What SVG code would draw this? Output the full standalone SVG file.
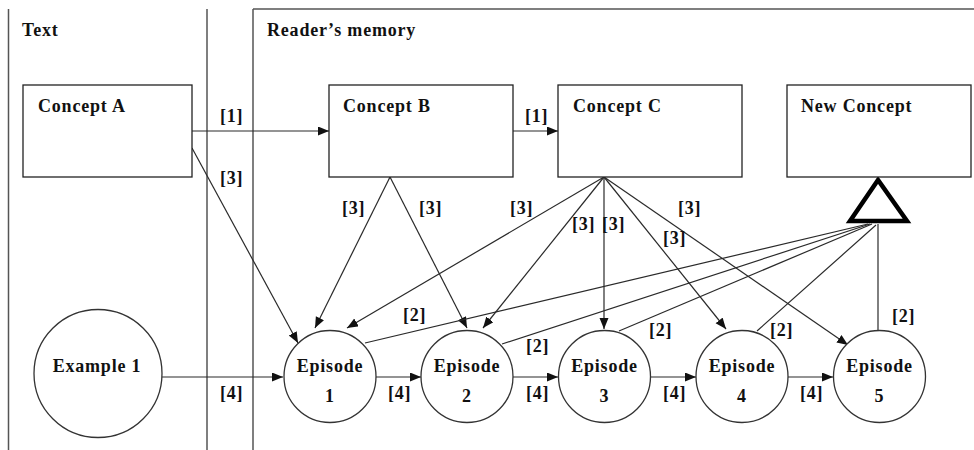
<svg xmlns="http://www.w3.org/2000/svg" width="974" height="450" viewBox="0 0 974 450">
<defs>
<style>
text{font-family:"Liberation Serif","Times New Roman",serif;font-weight:bold;font-size:18px;letter-spacing:0.8px;fill:#111}
.mid{text-anchor:middle}
.box{fill:#fff;stroke:#222;stroke-width:1.3}
.circ{fill:#fff;stroke:#333;stroke-width:1.3}
.panel{stroke:#555;stroke-width:1.5;fill:none}
.c{stroke:#2a2a2a;stroke-width:1.2;fill:none}
.a{marker-end:url(#arr)}
</style>
<marker id="arr" markerUnits="userSpaceOnUse" markerWidth="12" markerHeight="10" refX="11" refY="4.5" orient="auto">
<path d="M0,0 L11,4.5 L0,9 z" fill="#111"/>
</marker>
</defs>
<rect width="974" height="450" fill="#fff"/>
<g id="panels">
<line class="panel" x1="8.5" y1="9" x2="8.5" y2="450"/>
<line class="panel" x1="207" y1="9" x2="207" y2="450"/>
<line class="panel" x1="253" y1="9" x2="253" y2="450"/>
<line class="panel" x1="253" y1="9" x2="974" y2="9" stroke="#888"/>
<text x="22" y="36">Text</text>
<text x="267" y="36">Reader’s memory</text>
</g>
<g id="connectors">
<line class="c a" x1="192" y1="131" x2="329" y2="131"/>
<line class="c a" x1="513" y1="131" x2="558" y2="131"/>
<line class="c a" x1="192" y1="148" x2="298" y2="343"/>
<line class="c a" x1="390" y1="177" x2="315" y2="328"/>
<line class="c a" x1="390" y1="177" x2="467" y2="328"/>
<line class="c a" x1="604" y1="177" x2="347" y2="328"/>
<line class="c a" x1="604" y1="177" x2="483" y2="328"/>
<line class="c a" x1="604" y1="177" x2="604" y2="329"/>
<line class="c a" x1="604" y1="177" x2="726" y2="329"/>
<line class="c a" x1="604" y1="177" x2="848" y2="345"/>
<line class="c" x1="868" y1="224" x2="365" y2="343"/>
<line class="c" x1="870" y1="224" x2="502" y2="344"/>
<line class="c" x1="872" y1="224" x2="619" y2="331"/>
<line class="c" x1="876" y1="225" x2="757" y2="331"/>
<line class="c" x1="878" y1="224" x2="878" y2="330"/>
<line class="c a" x1="162" y1="377" x2="283" y2="377"/>
<line class="c a" x1="376" y1="377" x2="421" y2="377"/>
<line class="c a" x1="513" y1="377" x2="558" y2="377"/>
<line class="c a" x1="650" y1="377" x2="696" y2="377"/>
<line class="c a" x1="788" y1="377" x2="833" y2="377"/>
<polygon points="878,180 850,221 907,221" fill="none" stroke="#000" stroke-width="4.5" stroke-linejoin="miter"/>
<text x="220" y="122">[1]</text>
<text x="525" y="122">[1]</text>
<text x="220" y="184">[3]</text>
<text x="342" y="214">[3]</text>
<text x="419" y="214">[3]</text>
<text x="510" y="214">[3]</text>
<text x="572" y="230">[3]</text>
<text x="602" y="230">[3]</text>
<text x="663" y="244">[3]</text>
<text x="678" y="214">[3]</text>
<text x="403" y="321">[2]</text>
<text x="526" y="352">[2]</text>
<text x="649" y="336">[2]</text>
<text x="770" y="336">[2]</text>
<text x="892" y="322">[2]</text>
<text x="220" y="399">[4]</text>
<text x="388" y="399">[4]</text>
<text x="526" y="399">[4]</text>
<text x="663" y="399">[4]</text>
<text x="800" y="399">[4]</text>
</g>
<g id="conceptA"><rect class="box" x="23" y="85" width="169" height="92"/><text x="38" y="112">Concept A</text></g>
<g id="conceptB"><rect class="box" x="329" y="85" width="184" height="92"/><text x="343" y="112">Concept B</text></g>
<g id="conceptC"><rect class="box" x="558" y="85" width="184" height="92"/><text x="573" y="112">Concept C</text></g>
<g id="newConcept"><rect class="box" x="787" y="85" width="184" height="92"/><text x="801" y="112">New Concept</text></g>
<g id="example1"><circle class="circ" cx="98" cy="373.5" r="64"/><text class="mid" x="97" y="372">Example 1</text></g>
<g id="episode1"><circle class="circ" cx="330" cy="376.5" r="46"/><text class="mid" x="330" y="372">Episode</text><text class="mid" x="330" y="402">1</text></g>
<g id="episode2"><circle class="circ" cx="467" cy="376.5" r="46"/><text class="mid" x="467" y="372">Episode</text><text class="mid" x="467" y="402">2</text></g>
<g id="episode3"><circle class="circ" cx="604.5" cy="376.5" r="46"/><text class="mid" x="604.5" y="372">Episode</text><text class="mid" x="604.5" y="402">3</text></g>
<g id="episode4"><circle class="circ" cx="742" cy="376.5" r="46"/><text class="mid" x="742" y="372">Episode</text><text class="mid" x="742" y="402">4</text></g>
<g id="episode5"><circle class="circ" cx="879.5" cy="376.5" r="46"/><text class="mid" x="879.5" y="372">Episode</text><text class="mid" x="879.5" y="402">5</text></g>
</svg>
